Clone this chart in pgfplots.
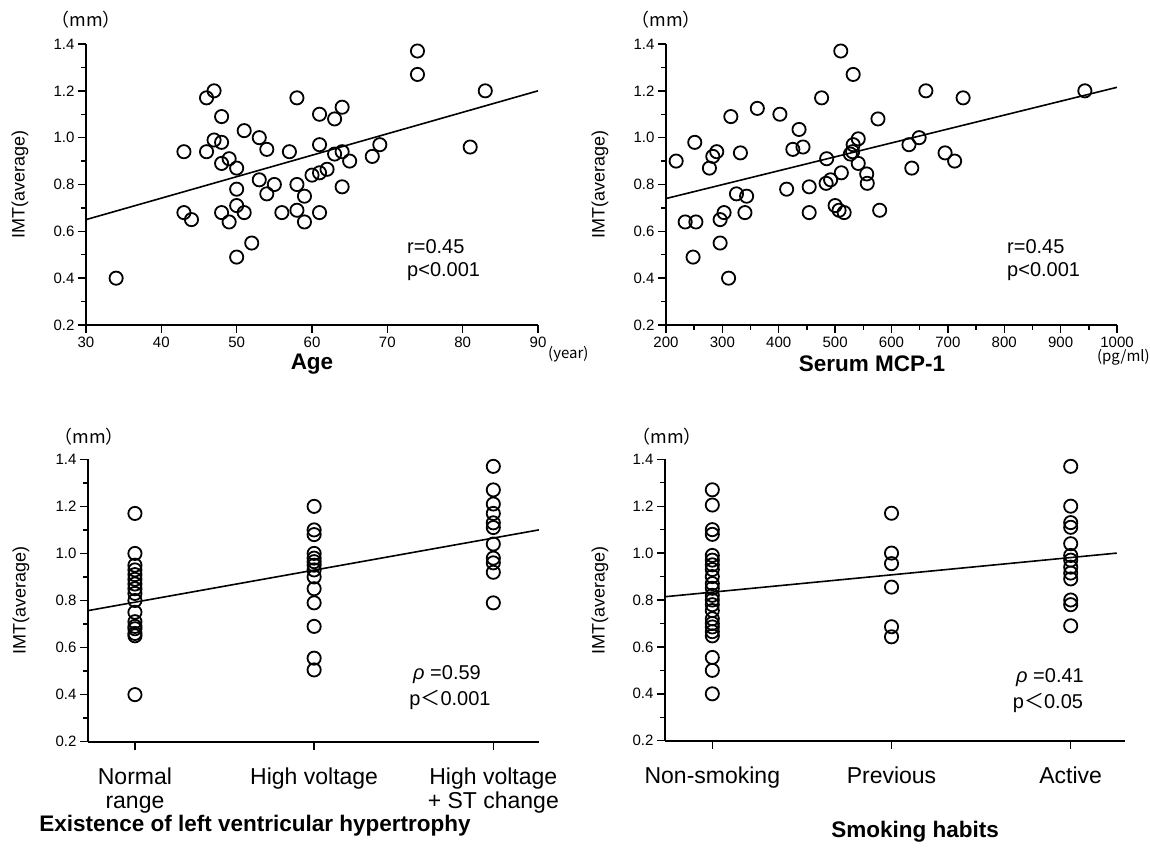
\documentclass[border=0pt]{standalone}
\usepackage{fontspec}
\setmainfont{Liberation Sans}
\newfontfamily\cjk{Noto Sans CJK JP}
\usepackage{pgfplots}
\pgfplotsset{compat=1.18}

\newcommand\tl{\fontsize{15}{15}\selectfont}
\pgfplotsset{
  imt/.style={
    scale only axis, anchor=south west,
    axis lines=left, axis line style={-, line width=1.6pt},
    ymin=0.2, ymax=1.4, ytick={0.2,0.4,0.6,0.8,1.0,1.2,1.4}, minor y tick num=1,
    tick align=outside, major tick length=8pt, minor tick length=5pt,
    tick style={line width=1.4pt, black},
    yticklabel={\tl\pgfmathprintnumber[fixed,fixed zerofill,precision=1]{\tick}},
    /pgf/number format/assume math mode=true,
    /pgf/number format/1000 sep={},
  },
  dots/.style={only marks, mark=o, mark size=6.6pt,
    mark options={line width=1.8pt, draw=black}},
  fit/.style={black, line width=1.6pt, mark=none},
  cat/.style={xticklabel style={font=\fontsize{23}{24}\selectfont, align=center,
    anchor=north, yshift=-15pt}},
}

\begin{document}
\begin{tikzpicture}
\path[use as bounding box] (0,0) rectangle (1150pt,854pt);

% top left: age
\begin{axis}[imt, at={(86pt,529pt)}, width=452pt, height=281pt,
  xmin=30, xmax=90, xtick={30,40,50,60,70,80,90},
  xticklabel={\tl\pgfmathprintnumber{\tick}}]
\addplot[dots] coordinates {
 (34,0.40) (43,0.94) (43,0.68) (44,0.65) (46,1.17) (47,1.20) (46,0.94)
 (47,0.99) (48,1.09) (48,0.98) (48,0.89) (49,0.91) (50,0.87) (48,0.68)
 (49,0.64) (50,0.78) (50,0.71) (51,0.68) (52,0.55) (50,0.49) (51,1.03)
 (53,1.00) (54,0.95) (53,0.82) (54,0.76) (55,0.80) (56,0.68) (57,0.94)
 (58,1.17) (58,0.80) (59,0.75) (58,0.69) (59,0.64) (61,0.68) (60,0.84)
 (61,0.85) (62,0.865) (61,0.97) (61,1.10) (63,1.08) (64,1.13) (63,0.93)
 (64,0.94) (65,0.90) (64,0.79) (68,0.92) (69,0.97) (74,1.37) (74,1.27)
 (81,0.96) (83,1.20)
};
\addplot[fit] coordinates {(30,0.65) (90,1.20)};
\end{axis}

% top right: serum MCP-1
\begin{axis}[imt, at={(666pt,529pt)}, width=451pt, height=281pt,
  xmin=200, xmax=1000, xtick={200,300,400,500,600,700,800,900,1000},
  minor x tick num=1,
  xticklabel={\tl\pgfmathprintnumber{\tick}}]
\addplot[dots] coordinates {
 (218,0.90) (234,0.64) (253,0.64) (248,0.49) (251,0.98) (277,0.87)
 (283,0.92) (290,0.94) (296,0.65) (303,0.68) (296,0.55) (311,0.40)
 (315,1.09) (332,0.935) (325,0.76) (343,0.75) (340,0.68) (362,1.125)
 (402,1.10) (414,0.78) (425,0.95) (436,1.035) (443,0.96) (454,0.79)
 (454,0.68) (476,1.17) (485,0.91) (484,0.805) (492,0.82) (511,0.85)
 (500,0.71) (507,0.69) (516,0.68) (510,1.37) (532,1.27) (527,0.93)
 (531,0.94) (532,0.97) (541,0.995) (541,0.89) (556,0.845) (557,0.805)
 (576,1.08) (579,0.69) (631,0.97) (649,1.00) (636,0.87) (695,0.935)
 (712,0.90) (661,1.20) (727,1.17) (943,1.20)
};
\addplot[fit] coordinates {(200,0.74) (1000,1.215)};
\end{axis}

% bottom left: LVH
\begin{axis}[imt, cat, at={(88pt,112.3pt)}, width=451pt, height=282.4pt,
  xmin=-0.262, xmax=2.255, xtick={0,1,2},
  xticklabels={Normal\\range, High voltage, High voltage\\+ ST change}]
\addplot[dots] coordinates {
 (0,1.17) (0,1.00) (0,0.95) (0,0.93) (0,0.91) (0,0.89) (0,0.87) (0,0.85)
 (0,0.83) (0,0.80) (0,0.75) (0,0.71) (0,0.69) (0,0.68) (0,0.66) (0,0.65)
 (0,0.40)
 (1,1.20) (1,1.10) (1,1.08) (1,1.00) (1,0.98) (1,0.965) (1,0.95) (1,0.93)
 (1,0.90) (1,0.85) (1,0.79) (1,0.69) (1,0.555) (1,0.505)
 (2,1.37) (2,1.27) (2,1.21) (2,1.17) (2,1.13) (2,1.11) (2,1.04) (2,0.98)
 (2,0.96) (2,0.92) (2,0.79)
};
\addplot[fit] coordinates {(-0.262,0.757) (2.254,1.10)};
\end{axis}

% bottom right: smoking
\begin{axis}[imt, cat, at={(665pt,113.3pt)}, width=460pt, height=281.4pt,
  xmin=-0.264, xmax=2.303, xtick={0,1,2},
  xticklabels={Non-smoking, Previous, Active}]
\addplot[dots] coordinates {
 (0,1.27) (0,1.205) (0,1.10) (0,1.08) (0,0.99) (0,0.97) (0,0.95) (0,0.93)
 (0,0.90) (0,0.87) (0,0.85) (0,0.82) (0,0.80) (0,0.78) (0,0.755) (0,0.72)
 (0,0.70) (0,0.685) (0,0.665) (0,0.647) (0,0.555) (0,0.50) (0,0.40)
 (1,1.17) (1,1.00) (1,0.955) (1,0.855) (1,0.686) (1,0.643)
 (2,1.37) (2,1.20) (2,1.13) (2,1.11) (2,1.04) (2,0.99) (2,0.97) (2,0.94)
 (2,0.915) (2,0.89) (2,0.80) (2,0.78) (2,0.69)
};
\addplot[fit] coordinates {(-0.264,0.814) (2.257,1.00)};
\end{axis}

% units and axis titles
\begin{scope}[every node/.style={inner sep=0pt}]
\foreach \x/\y in {86/834, 666/834, 89/417, 667/417}
  \node[font=\cjk\fontsize{18}{18}\selectfont] at (\x pt,\y pt) {（mm）};
\foreach \x/\y in {20/669.5, 600/669.5, 21/253.5, 600/253.5}
  \node[font=\fontsize{18}{18}\selectfont, rotate=90] at (\x pt,\y pt) {IMT(average)};
\node[font=\cjk\fontsize{15}{15}\selectfont, anchor=west] at (548pt,500pt) {(year)};
\node[font=\cjk\fontsize{15}{15}\selectfont, anchor=east] at (1150pt,497pt) {(pg/ml)};
\node[font=\bfseries\fontsize{22.5}{22.5}\selectfont] at (312pt,490pt) {Age};
\node[font=\bfseries\fontsize{22.5}{22.5}\selectfont] at (872pt,490pt) {Serum MCP-1};
\node[font=\bfseries\fontsize{22.5}{22.5}\selectfont] at (255pt,28pt) {Existence of left ventricular hypertrophy};
\node[font=\bfseries\fontsize{22.5}{22.5}\selectfont] at (915pt,22pt) {Smoking habits};
% statistics
\begin{scope}[every node/.append style={font=\fontsize{20}{20}\selectfont}]
\node[anchor=west] at (407pt,607pt) {r=0.45};
\node[anchor=west] at (407pt,582pt) {p<0.001};
\node[anchor=west] at (1007pt,607pt) {r=0.45};
\node[anchor=west] at (1007pt,582pt) {p<0.001};
\node at (447pt,179pt) {{\itshape ρ} =0.59};
\node at (450pt,154pt) {p{\cjk ＜}0.001};
\node at (1050pt,176pt) {{\itshape ρ} =0.41};
\node at (1048pt,151pt) {p{\cjk ＜}0.05};
\end{scope}
\end{scope}
\end{tikzpicture}
\end{document}
